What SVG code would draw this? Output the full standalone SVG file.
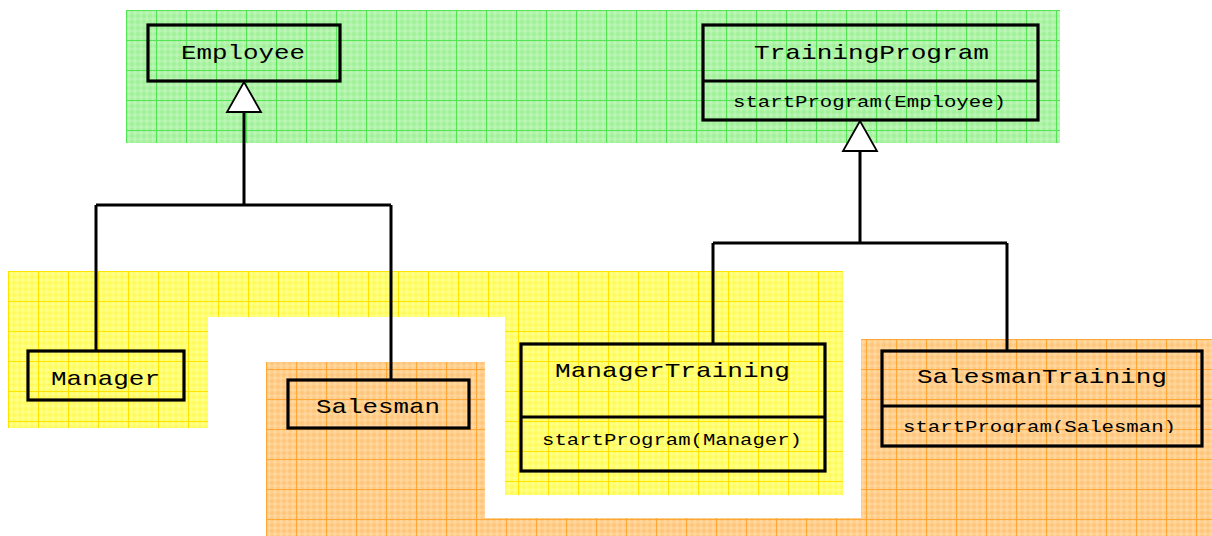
<svg xmlns="http://www.w3.org/2000/svg" width="1212" height="536" viewBox="0 0 1212 536">
<style>
.box{fill:none;stroke:#000;stroke-width:3.2}
.conn{fill:none;stroke:#000;stroke-width:3}
.tri{fill:#fff;stroke:#000;stroke-width:1.8}
.t{font-family:"Liberation Mono","Courier New",monospace;font-size:21px;fill:#000}
.m{font-family:"Liberation Mono","Courier New",monospace;font-size:16px;fill:#000}
</style>
<defs>
<pattern id="pg" x="126" y="10" width="30" height="30" patternUnits="userSpaceOnUse">
<rect width="30" height="30" fill="#a8f2a2"/>
<path d="M3 0V30M9 0V30M15 0V30M21 0V30M27 0V30M0 3H30M0 9H30M0 15H30M0 21H30M0 27H30" stroke="#bdf6b8" stroke-width="1.5"/>
<path d="M6 0V30M12 0V30M18 0V30M24 0V30M0 6H30M0 12H30M0 18H30M0 24H30" stroke="#98ee92" stroke-width="0.6"/>
<path d="M0.5 0V30M0 0.5H30" stroke="#55e455" stroke-width="1.2"/>
</pattern>
<pattern id="py" x="8" y="271" width="30" height="30" patternUnits="userSpaceOnUse">
<rect width="30" height="30" fill="#ffff66"/>
<path d="M3 0V30M9 0V30M15 0V30M21 0V30M27 0V30M0 3H30M0 9H30M0 15H30M0 21H30M0 27H30" stroke="#ffff8a" stroke-width="1.5"/>
<path d="M6 0V30M12 0V30M18 0V30M24 0V30M0 6H30M0 12H30M0 18H30M0 24H30" stroke="#fff355" stroke-width="0.6"/>
<path d="M0.5 0V30M0 0.5H30" stroke="#ffe400" stroke-width="1.2"/>
</pattern>
<pattern id="po" x="266" y="339" width="30" height="30" patternUnits="userSpaceOnUse">
<rect width="30" height="30" fill="#ffcc88"/>
<path d="M3 0V30M9 0V30M15 0V30M21 0V30M27 0V30M0 3H30M0 9H30M0 15H30M0 21H30M0 27H30" stroke="#ffd8a0" stroke-width="1.5"/>
<path d="M6 0V30M12 0V30M18 0V30M24 0V30M0 6H30M0 12H30M0 18H30M0 24H30" stroke="#ffc070" stroke-width="0.6"/>
<path d="M0.5 0V30M0 0.5H30" stroke="#ffa838" stroke-width="1.2"/>
</pattern>
<clipPath id="clipST"><rect x="882" y="406" width="320" height="27"/></clipPath>
</defs>
<g id="backgrounds">
<rect x="126" y="10" width="934" height="133" fill="url(#pg)"/>
<path d="M8 271H843V495H505V317H208V428H8Z" fill="url(#py)"/>
<path d="M266 362H485V518H861V339H1212V536H266Z" fill="url(#po)"/>
</g>
<g id="connectors">
<path class="conn" d="M244 112V205M96 205H391M96 205V351M391 205V380"/>
<path class="conn" d="M860 151V243M713 243H1007M713 243V344M1007 243V351"/>
<polygon class="tri" points="244,82 227,112 261,112"/>
<polygon class="tri" points="860,121 843,151 877,151"/>
</g>
<g id="Employee">
<rect class="box" x="148" y="25" width="192" height="56"/>
<text class="t" x="181" y="59" textLength="124" lengthAdjust="spacingAndGlyphs">Employee</text>
</g>
<g id="TrainingProgram">
<rect class="box" x="703" y="25" width="335" height="95"/>
<line class="box" x1="703" y1="81" x2="1038" y2="81"/>
<text class="t" x="754" y="59" textLength="235" lengthAdjust="spacingAndGlyphs">TrainingProgram</text>
<text class="m" x="733" y="107" textLength="273" lengthAdjust="spacingAndGlyphs">startProgram(Employee)</text>
</g>
<g id="Manager">
<rect class="box" x="28" y="351" width="156" height="49"/>
<text class="t" x="51" y="385" textLength="109" lengthAdjust="spacingAndGlyphs">Manager</text>
</g>
<g id="Salesman">
<rect class="box" x="288" y="380" width="181" height="48"/>
<text class="t" x="316" y="413" textLength="124" lengthAdjust="spacingAndGlyphs">Salesman</text>
</g>
<g id="ManagerTraining">
<rect class="box" x="521" y="344" width="304" height="127"/>
<line class="box" x1="521" y1="417" x2="825" y2="417"/>
<text class="t" x="555" y="377" textLength="235" lengthAdjust="spacingAndGlyphs">ManagerTraining</text>
<text class="m" x="542" y="445" textLength="260" lengthAdjust="spacingAndGlyphs">startProgram(Manager)</text>
</g>
<g id="SalesmanTraining">
<rect class="box" x="882" y="351" width="320" height="95"/>
<line class="box" x1="882" y1="406" x2="1202" y2="406"/>
<text class="t" x="917" y="383" textLength="250" lengthAdjust="spacingAndGlyphs">SalesmanTraining</text>
<text class="m" x="903" y="432" textLength="273" lengthAdjust="spacingAndGlyphs" clip-path="url(#clipST)">startProgram(Salesman)</text>
</g>
</svg>
